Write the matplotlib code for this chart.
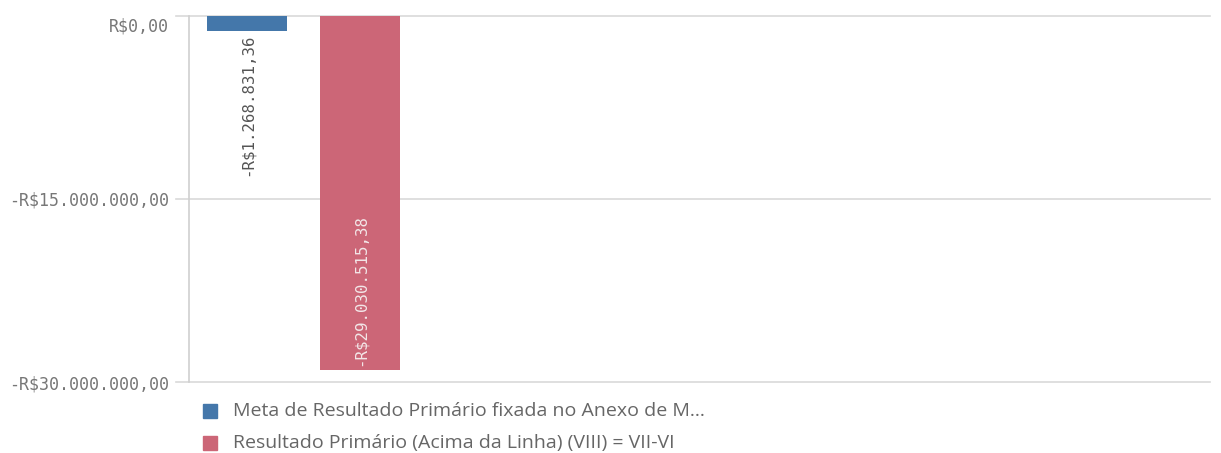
import matplotlib.pyplot as plt
import matplotlib.transforms as mtransforms
from matplotlib.patches import Rectangle

# Dados
series = [
    "Meta de Resultado Primário fixada no Anexo de M...",
    "Resultado Primário (Acima da Linha) (VIII) = VII-VI",
]
values = [-1268831.36, -29030515.38]
value_labels = ["-R$1.268.831,36", "-R$29.030.515,38"]
colors = ["#4477aa", "#cc6677"]
yticks = [0, -15000000, -30000000]
ytick_labels = ["R$0,00", "-R$15.000.000,00", "-R$30.000.000,00"]

W, H = 1221, 453
fig = plt.figure(figsize=(W / 100, H / 100), dpi=100)
ax = fig.add_axes([189 / W, 1 - 382 / H, (1210 - 189) / W, (382 - 16) / H])

positions = [-0.5, 0.5]
bar_w = 80 / 113.5
ax.bar(positions, values, width=bar_w, color=colors, zorder=3)

ax.set_ylim(-30000000, 0)
ax.set_xlim(-1.011, 7.985)

# linhas de grade estendidas à esquerda do eixo
for yv in yticks:
    ax.plot([-13 / 1021, 1], [(yv + 30000000) / 30000000] * 2,
            transform=ax.transAxes, color="#d9d9d9", lw=1.2,
            clip_on=False, zorder=1)

for s in ["top", "right", "bottom"]:
    ax.spines[s].set_visible(False)
ax.spines["left"].set_color("#d0d0d0")
ax.spines["left"].set_linewidth(1.2)

ax.set_xticks([])
ax.set_yticks(yticks)
ax.set_yticklabels(ytick_labels, family="DejaVu Sans Mono", fontsize=12,
                   color="#777777")
ax.tick_params(axis="y", length=0, pad=14.5)
# o primeiro rótulo fica um pouco abaixo da linha
lbl0 = ax.get_yticklabels()[0]
lbl0.set_transform(lbl0.get_transform() + mtransforms.ScaledTranslation(
    0, -9 / 100, fig.dpi_scale_trans))

# rótulos de valor
ax.text(positions[0], values[0] - 150000, value_labels[0], rotation=90,
        ha="center", va="top", family="DejaVu Sans Mono", fontsize=11.3,
        color="#555555")
ax.text(positions[1], values[1] + 350000, value_labels[1], rotation=90,
        ha="center", va="bottom", family="DejaVu Sans Mono", fontsize=11.3,
        color="#f3e6e8")

# legenda
for i, (name, c) in enumerate(zip(series, colors)):
    yc = 1 - (411 + 32 * i) / H
    fig.patches.append(Rectangle((203 / W, yc - 7 / H), 14 / W, 14 / H,
                                 transform=fig.transFigure, color=c))
    fig.text(233 / W, yc, name, va="center", ha="left", family="Open Sans",
             fontsize=14, color="#666666")

fig.savefig("out.png", dpi=100)
